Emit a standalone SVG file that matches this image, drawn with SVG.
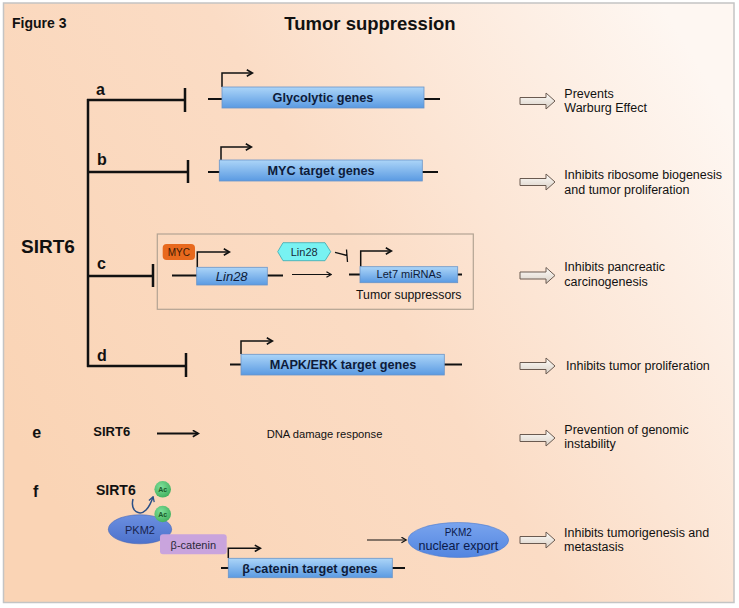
<svg xmlns="http://www.w3.org/2000/svg" width="739" height="608" viewBox="0 0 739 608">
<defs>
<linearGradient id="bg" x1="0" y1="0.7" x2="1" y2="0.2">
<stop offset="0" stop-color="#fad4b5"/>
<stop offset="0.5" stop-color="#fbdcc5"/>
<stop offset="1" stop-color="#fef7f2"/>
</linearGradient>
<linearGradient id="gene" x1="0" y1="0" x2="0" y2="1">
<stop offset="0" stop-color="#acd5f8"/>
<stop offset="1" stop-color="#5a9ae2"/>
</linearGradient>
<linearGradient id="open" x1="0" y1="0" x2="0" y2="1">
<stop offset="0" stop-color="#fffdfa"/>
<stop offset="1" stop-color="#d9d0c6"/>
</linearGradient>
<radialGradient id="ac" cx="0.4" cy="0.35" r="0.7">
<stop offset="0" stop-color="#7fe09a"/>
<stop offset="1" stop-color="#3fae5c"/>
</radialGradient>
<linearGradient id="pkm" x1="0" y1="0" x2="0" y2="1">
<stop offset="0" stop-color="#6b8fe0"/>
<stop offset="1" stop-color="#4d72cc"/>
</linearGradient>
<linearGradient id="pkm2" x1="0" y1="0" x2="0" y2="1">
<stop offset="0" stop-color="#79a4ee"/>
<stop offset="1" stop-color="#5285e0"/>
</linearGradient>
<marker id="chev" viewBox="0 0 10 10" refX="8" refY="5" markerWidth="8" markerHeight="8" markerUnits="userSpaceOnUse" orient="auto">
<path d="M1.5,1 L8.5,5 L1.5,9" fill="none" stroke="#111" stroke-width="2"/>
</marker>
<marker id="chevs" viewBox="0 0 10 10" refX="8" refY="5" markerWidth="7" markerHeight="7" markerUnits="userSpaceOnUse" orient="auto">
<path d="M1.5,1 L8.5,5 L1.5,9" fill="none" stroke="#111" stroke-width="1.8"/>
</marker>
<marker id="chevb" viewBox="0 0 10 10" refX="8" refY="5" markerWidth="7" markerHeight="7" markerUnits="userSpaceOnUse" orient="auto">
<path d="M1.5,1 L8.5,5 L1.5,9" fill="none" stroke="#2b4f86" stroke-width="1.8"/>
</marker>
<path id="oarrow" d="M0,-3.5 H26 V-8 L35,0 L26,8 V3.5 H0 Z" fill="url(#open)" stroke="#6a5a50" stroke-width="1"/>
</defs>
<style>
text{font-family:"Liberation Sans",Arial,sans-serif}
.b{font-weight:bold}
.lbl{font-weight:bold;font-size:16px;fill:#111}
.res{font-size:12.5px;fill:#111}
.gt{font-weight:bold;font-size:12.7px;fill:#0d1b3a;text-anchor:middle}
.gbox{fill:url(#gene);stroke:#6a95c8;stroke-width:0.8}
.ln{stroke:#111;stroke-width:2;fill:none}
.thk{stroke:#111;stroke-width:2.5;fill:none}
.prom{stroke:#111;stroke-width:1.5;fill:none;marker-end:url(#chev)}
</style>
<rect x="0" y="0" width="739" height="608" fill="#fff"/>
<rect x="3.5" y="3" width="730.5" height="599.5" fill="url(#bg)" stroke="#c4c4c4" stroke-width="1.5"/>

<text x="12" y="28" class="b" font-size="14" fill="#111">Figure 3</text>
<text x="370" y="30" class="b" font-size="18.5" fill="#111" text-anchor="middle">Tumor suppression</text>

<g id="sirt6-tree">
<text x="21" y="253" class="b" font-size="19" fill="#111">SIRT6</text>
<text x="96" y="95" class="lbl">a</text>
<text x="97" y="165" class="lbl">b</text>
<text x="97" y="269" class="lbl">c</text>
<text x="97" y="361" class="lbl">d</text>
</g>

<g id="connectors">
<path class="thk" d="M88,99 V367"/>
<path class="thk" d="M87,100 H185 M185,88 V112"/>
<path class="thk" d="M87,172 H188 M188,160 V183"/>
<path class="thk" d="M87,276 H153 M153,264 V287"/>
<path class="thk" d="M87,366 H186 M186,353 V377"/>
<path class="ln" d="M208,99 H440"/>
<path class="ln" d="M208,172 H438"/>
<path class="ln" d="M230,364.5 H462"/>
<path class="ln" d="M172,275.5 H283"/>
<path class="ln" d="M349,274.5 H462"/>
<path class="ln" d="M221,568 H405"/>
<path class="prom" d="M222,87 V73 H252"/>
<path class="prom" d="M221,160 V147 H251"/>
<path class="prom" d="M241,354 V341 H272"/>
<path class="prom" d="M197.3,267 V252 H229"/>
<path class="prom" d="M360.7,266.7 V251 H391"/>
<path class="prom" d="M228.3,558 V548.3 H260"/>
<path d="M292,274.5 H331" stroke="#111" stroke-width="1.2" fill="none" marker-end="url(#chevs)"/>
<path d="M335,252.3 L347,255.5 M346.5,249.5 L347.5,262" stroke="#111" stroke-width="1.3" fill="none"/>
<path d="M157,433.5 L198,433.5" stroke="#111" stroke-width="2" fill="none" marker-end="url(#chev)"/>
<path d="M367,540 H406" stroke="#111" stroke-width="1.2" fill="none" marker-end="url(#chevs)"/>
<path d="M133,499 C130,512 140,516 146,510 C149,507 151,503 153,497" stroke="#2b4f86" stroke-width="1.5" fill="none" marker-end="url(#chevb)"/>
</g>

<g id="node-glycolytic">
<rect class="gbox" x="222" y="87" width="202" height="21"/>
<text x="323" y="102" class="gt">Glycolytic genes</text>
</g>
<g id="node-myc-target">
<rect class="gbox" x="219.3" y="160" width="203" height="21"/>
<text x="321" y="175" class="gt">MYC target genes</text>
</g>
<g id="node-box-c">
<rect x="157.3" y="234" width="316" height="75.3" fill="none" stroke="#b3a393" stroke-width="1.2"/>
</g>
<g id="node-myc">
<rect x="162.7" y="244" width="32.3" height="16" rx="4" fill="#e8691d"/>
<text x="178.8" y="255.8" font-size="10" fill="#3a1a05" text-anchor="middle">MYC</text>
</g>
<g id="node-lin28-gene">
<rect class="gbox" x="196.7" y="267.3" width="70.6" height="17.7"/>
<text x="231.7" y="280.7" font-size="13" font-style="italic" fill="#0d1b3a" text-anchor="middle">Lin28</text>
</g>
<g id="node-lin28-protein">
<path d="M277.7,251.7 L283,242.7 H325 L330.7,251.7 L325,260.7 H283 Z" fill="#78f2f2" stroke="#3aa8b0" stroke-width="0.8"/>
<text x="304.2" y="255.8" font-size="11" fill="#1a2a3a" text-anchor="middle">Lin28</text>
</g>
<g id="node-let7">
<rect class="gbox" x="360" y="266.7" width="97.7" height="16"/>
<text x="409" y="278.3" font-size="11" fill="#0d1b3a" text-anchor="middle">Let7 miRNAs</text>
<text x="356" y="299.3" font-size="12.3" fill="#111">Tumor suppressors</text>
</g>
<g id="node-mapk">
<rect class="gbox" x="241" y="354.3" width="203.3" height="20.7"/>
<text x="343" y="369" class="gt">MAPK/ERK target genes</text>
</g>

<g id="node-e">
<text x="32.3" y="438" class="lbl">e</text>
<text x="93.3" y="436" class="b" font-size="13" fill="#111">SIRT6</text>
<text x="266.7" y="437.7" font-size="11.2" fill="#111">DNA damage response</text>
</g>

<g id="node-f">
<text x="33" y="497" class="lbl">f</text>
<text x="96" y="495" class="b" font-size="14" fill="#111">SIRT6</text>
<circle cx="162.7" cy="489.3" r="8.3" fill="url(#ac)"/>
<text x="162.7" y="492" font-size="7" class="b" fill="#1a5a2a" text-anchor="middle">Ac</text>
<ellipse cx="140" cy="529.3" rx="31.7" ry="14.5" fill="url(#pkm)" stroke="#4566b8" stroke-width="0.6"/>
<text x="140" y="533.5" font-size="11" fill="#18244e" text-anchor="middle">PKM2</text>
<circle cx="162.7" cy="514" r="8.3" fill="url(#ac)"/>
<text x="162.7" y="516.7" font-size="7" class="b" fill="#1a5a2a" text-anchor="middle">Ac</text>
<rect x="160" y="534.3" width="66.7" height="20" rx="3" fill="#c9a4dd"/>
<text x="193.3" y="548.5" font-size="11" fill="#2a2a3a" text-anchor="middle">β-catenin</text>
<rect class="gbox" x="228.3" y="558.3" width="164" height="19.4"/>
<text x="310" y="572.5" class="gt" font-size="13.2">β-catenin target genes</text>
<ellipse cx="458.3" cy="540" rx="50.3" ry="17.5" fill="url(#pkm2)" stroke="#4a78cc" stroke-width="0.6"/>
<text x="458.3" y="536" font-size="10" fill="#0b1a4a" text-anchor="middle">PKM2</text>
<text x="458.3" y="550" font-size="12.6" fill="#0b1a4a" text-anchor="middle">nuclear export</text>
</g>

<g id="outcomes">
<use href="#oarrow" x="520" y="101"/>
<text x="564.3" y="98.3" class="res">Prevents</text>
<text x="564.3" y="111.7" class="res">Warburg Effect</text>
<use href="#oarrow" x="520" y="182"/>
<text x="564.3" y="179" class="res">Inhibits ribosome biogenesis</text>
<text x="564.3" y="194" class="res">and tumor proliferation</text>
<use href="#oarrow" x="520" y="275.5"/>
<text x="564.3" y="270.7" class="res">Inhibits pancreatic</text>
<text x="564.3" y="285.7" class="res">carcinogenesis</text>
<use href="#oarrow" x="520" y="366"/>
<text x="566" y="370" class="res">Inhibits tumor proliferation</text>
<use href="#oarrow" x="520" y="438"/>
<text x="564.3" y="434" class="res">Prevention of genomic</text>
<text x="564.3" y="448" class="res">instability</text>
<use href="#oarrow" x="520" y="540"/>
<text x="564" y="537.3" class="res">Inhibits tumorigenesis and</text>
<text x="564" y="551" class="res">metastasis</text>
</g>
</svg>
